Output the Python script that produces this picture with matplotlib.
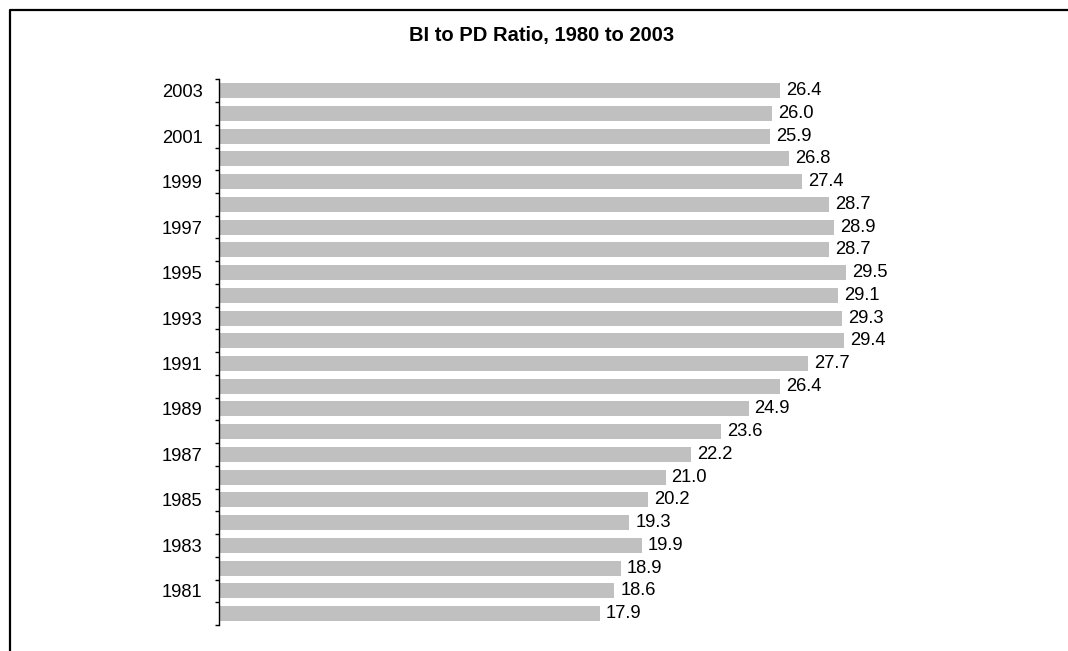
"""Horizontal bar chart: BI to PD ratio by year, 1980 to 2003."""
import numpy as np
import matplotlib.pyplot as plt
from matplotlib.lines import Line2D
from matplotlib.ticker import FixedLocator, NullFormatter

years = list(range(1980, 2004))
ratio = [17.9, 18.6, 18.9, 19.9, 19.3, 20.2, 21.0, 22.2, 23.6, 24.9,
         26.4, 27.7, 29.4, 29.3, 29.1, 29.5, 28.7, 28.9, 28.7, 27.4,
         26.8, 25.9, 26.0, 26.4]
title = 'BI to PD Ratio, 1980 to 2003'

plt.rcParams['font.family'] = ['Liberation Sans', 'DejaVu Sans']

W, H = 1068, 651
fig = plt.figure(figsize=(W / 100, H / 100), dpi=100)
ax = fig.add_axes([218.5 / W, (H - 625) / H, 745 / W, (625 - 79.3) / H])

pos = np.arange(len(years))
ax.barh(pos, ratio, height=0.66, color='#C0C0C0', edgecolor='none')
ax.set_ylim(-0.5, len(years) - 0.5)
ax.set_xlim(0, 35)

for p, v in zip(pos, ratio):
    ax.annotate(f'{v:.1f}', (v, p), xytext=(4.3, 0), textcoords='offset points',
                va='center', ha='left', fontsize=13.2)

# tick marks between categories, labels on every other year
ax.yaxis.set_major_locator(FixedLocator(np.arange(-0.5, len(years), 1.0)))
ax.yaxis.set_major_formatter(NullFormatter())
lab_pos = [p for p, y in zip(pos, years) if y % 2 == 1]
ax.set_yticks(lab_pos, [str(years[p]) for p in lab_pos], minor=True)
ax.tick_params(axis='y', which='major', length=3, width=1, direction='out')
ax.tick_params(axis='y', which='minor', length=0, pad=11.5, labelsize=13.2)

ax.xaxis.set_visible(False)
for s in ['top', 'right', 'bottom']:
    ax.spines[s].set_visible(False)
ax.spines['left'].set_linewidth(1)

fig.text(542 / W, (H - 41) / H, title, ha='center', va='baseline',
         fontsize=14.5, fontweight='bold')

# outer frame (top and left edges visible)
fig.add_artist(Line2D([10 / W, 10 / W, 1.0], [0.0, 1 - 10 / H, 1 - 10 / H],
                      transform=fig.transFigure, color='black', lw=1.6))

fig.savefig('out.png', dpi=100)
